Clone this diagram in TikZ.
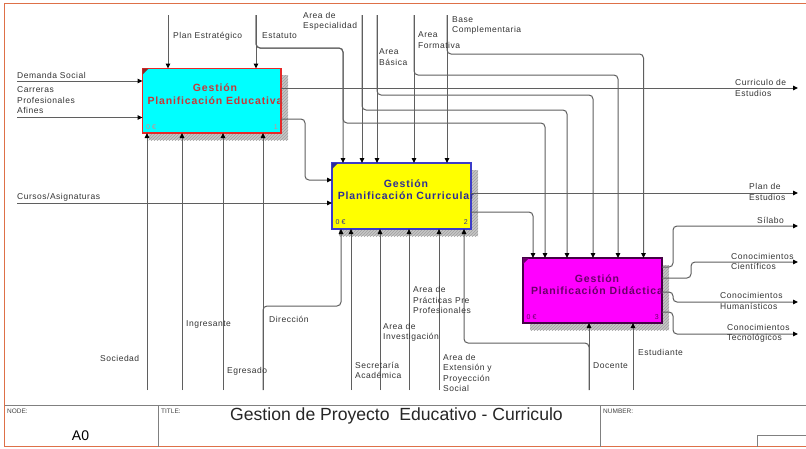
\documentclass[tikz,border=0pt]{standalone}
\usepackage{fontspec}
\setmainfont{Liberation Sans}
\newfontfamily\lblfont{Liberation Sans}[LetterSpace=6]
\newfontfamily\boxfont{Liberation Sans}[LetterSpace=8]
\usetikzlibrary{arrows.meta,patterns}

\definecolor{framecol}{RGB}{222,112,72}
\definecolor{wirecol}{RGB}{95,95,95}
\definecolor{redtxt}{RGB}{200,55,55}
\definecolor{bluetxt}{RGB}{45,45,150}
\definecolor{purptxt}{RGB}{105,0,105}
\definecolor{blueline}{RGB}{60,60,200}
\definecolor{purpline}{RGB}{70,0,70}
\definecolor{fillcyan}{RGB}{0,255,255}
\definecolor{fillyellow}{RGB}{255,255,0}
\definecolor{fillmagenta}{RGB}{255,0,255}
\definecolor{redline}{RGB}{230,40,40}

\tikzset{
  act/.style={rectangle, line width=1.2pt, inner sep=0pt, outer sep=0pt},
  shadowbox/.style={fill=gray!45},
  wire/.style={draw=wirecol, line width=1pt, rounded corners=4pt},
  arr/.style={wire, -{Triangle[length=5pt,width=4.5pt,color=black]}},
  lbl/.style={font=\lblfont\fontsize{8.5}{10.5}\selectfont, inner sep=0pt, anchor=west, align=left, text=black!80},
  acttxt/.style={font=\boxfont\bfseries\fontsize{10.5}{12.5}\selectfont, inner sep=0pt, align=center},
  corner/.style={font=\fontsize{7}{8}\selectfont, inner sep=0pt},
  tbsmall/.style={font=\fontsize{6.5}{7}\selectfont, inner sep=0pt, anchor=west, text=black!75},
  tbline/.style={draw=black!50, line width=1pt}
}

\begin{document}
\begin{tikzpicture}[x=1pt,y=-1pt]
\useasboundingbox (0,0) rectangle (806,448);
\fill[white] (0,0) rectangle (806,448);

% sheet frame
\draw[framecol, line width=1.3pt] (806,3.5) -- (4.5,3.5) -- (4.5,446.5) -- (806,446.5);

% title block
\draw[tbline] (4.5,405.5) -- (806,405.5);
\draw[tbline] (158,405.5) -- (158,446.5);
\draw[tbline] (600,405.5) -- (600,446.5);
\draw[tbline] (806,435.5) -- (757.5,435.5) -- (757.5,446.5);
\node[tbsmall] (tbNode) at (7,411) {NODE:};
\node[font=\fontsize{14}{16}\selectfont, inner sep=0pt] (tbA0) at (80.5,436) {A0};
\node[tbsmall] (tbTitle) at (161,411) {TITLE:};
\node[font=\fontsize{17.6}{20}\selectfont, inner sep=0pt, anchor=west, text=black!85] (tbText) at (230,415.5) {Gestion de Proyecto\ \ Educativo - Curriculo};
\node[tbsmall] (tbNumber) at (603,411) {NUMBER:};

% shadows of the activity boxes
\foreach \a/\b/\c/\d in {148.5/75/288/140, 339/170/478/236, 530/265/669/330}{
  \fill[shadowbox] (\a,\b) rectangle (\c,\d);
  \fill[pattern=north east lines, pattern color=gray!75] (\a,\b) rectangle (\c,\d);
}

% activity boxes
\node[act, draw=redline, fill=fillcyan, minimum width=138.5pt, minimum height=64.5pt] (A1) at (211.75,100.75) {};
\node[act, draw=blueline, fill=fillyellow, minimum width=139pt, minimum height=66pt] (A2) at (401.5,196) {};
\node[act, draw=purpline, fill=fillmagenta, minimum width=139pt, minimum height=65pt] (A3) at (592.5,290.5) {};

\fill[redtxt!70!black] (A1.north west) -- ++(6,0) -- ++(-6,6) -- cycle;
\fill[bluetxt] (A2.north west) -- ++(6,0) -- ++(-6,6) -- cycle;
\fill[purptxt] (A3.north west) -- ++(6,0) -- ++(-6,6) -- cycle;

\node[acttxt, text=redtxt] (A1t) at (215,94) {Gestión\\Planificación Educativa};
\node[acttxt, text=bluetxt] (A2t) at (406,189.5) {Gestión\\Planificación Curricular};
\node[acttxt, text=purptxt] (A3t) at (597,284.5) {Gestión\\Planificación Didáctica};

\node[corner, text=redtxt!60!white, anchor=west] (A1c) at (146,127) {0 €};
\node[corner, text=redtxt!60!white, anchor=east] (A1n) at (278,127) {1};
\node[corner, text=bluetxt, anchor=west] (A2c) at (335.5,222.5) {0 €};
\node[corner, text=bluetxt, anchor=east] (A2n) at (468,222.5) {2};
\node[corner, text=purptxt, anchor=west] (A3c) at (526.5,317) {0 €};
\node[corner, text=purptxt, anchor=east] (A3n) at (659,317) {3};

% ---------- inputs
\coordinate (iDS) at (17,81);
\coordinate (iCP) at (17,117.5);
\coordinate (iCA) at (17,203);
\draw[arr] (iDS) -- (iDS -| A1.west);
\draw[arr] (iCP) -- (iCP -| A1.west);
\draw[arr] (iCA) -- (iCA -| A2.west);

% ---------- controls
\coordinate (cPE) at (168,15);
\coordinate (cES) at (256,15);
\coordinate (cAE) at (362,15);
\coordinate (cAB) at (377,15);
\coordinate (cAF) at (414,15);
\coordinate (cBC) at (447,15);
\coordinate (kES) at (343,48);
\coordinate (kES3) at (545,123);
\coordinate (kAE) at (567,110);
\coordinate (kAB) at (593,95);
\coordinate (kAF) at (618,75);
\coordinate (kBC) at (643.5,54);

\draw[arr] (cPE) -- (cPE |- A1.north);
\draw[arr] (cES) -- (cES |- A1.north);
\draw[arr] (cES) |- (kES) -- (kES |- A2.north);
\draw[arr] (cES) |- (kES) |- (kES3) -- (kES3 |- A3.north);
\draw[arr] (cAE) -- (cAE |- A2.north);
\draw[arr] (cAE) |- (kAE) -- (kAE |- A3.north);
\draw[arr] (cAB) -- (cAB |- A2.north);
\draw[arr] (cAB) |- (kAB) -- (kAB |- A3.north);
\draw[arr] (cAF) -- (cAF |- A2.north);
\draw[arr] (cAF) |- (kAF) -- (kAF |- A3.north);
\draw[arr] (cBC) -- (cBC |- A2.north);
\draw[arr] (cBC) |- (kBC) -- (kBC |- A3.north);

% ---------- outputs
\coordinate (oCE) at (798,88);
\draw[arr] (oCE -| A1.east) -- (oCE);
\coordinate (r12) at (0,119);
\coordinate (k12) at (305,180);
\draw[arr] (r12 -| A1.east) -| (k12) -- (k12 -| A2.west);

\coordinate (oPE) at (798,193);
\draw[arr] (oPE -| A2.east) -- (oPE);
\coordinate (k23) at (533,212);
\draw[arr] (k23 -| A2.east) -- (k23) -- (k23 |- A3.north);

\coordinate (rSi) at (0,267);  \coordinate (kSi) at (673,226);  \coordinate (oSi) at (798,226);
\coordinate (rCC) at (0,278);  \coordinate (kCC) at (691,262);  \coordinate (oCC) at (798,262);
\coordinate (rCH) at (0,292);  \coordinate (kCH) at (673,302);  \coordinate (oCH) at (798,302);
\coordinate (rCT) at (0,312);  \coordinate (kCT) at (673,334);  \coordinate (oCT) at (798,334);
\draw[arr] (rSi -| A3.east) -| (kSi) -- (oSi);
\draw[arr] (rCC -| A3.east) -| (kCC) -- (oCC);
\draw[arr] (rCH -| A3.east) -| (kCH) -- (oCH);
\draw[arr] (rCT -| A3.east) -| (kCT) -- (oCT);

% ---------- mechanisms
\coordinate (mSo) at (147,390);
\coordinate (mIn) at (182,390);
\coordinate (mEg) at (223,390);
\coordinate (mDi) at (263,390);
\coordinate (kDi) at (341,306);
\coordinate (mSA) at (351,390);
\coordinate (mAI) at (380,390);
\coordinate (mAP) at (409,390);
\coordinate (mAX) at (439,390);
\coordinate (mDo) at (589,390);
\coordinate (kDo) at (464,343);
\coordinate (mEs) at (633,390);

\draw[arr] (mSo) -- (mSo |- A1.south);
\draw[arr] (mIn) -- (mIn |- A1.south);
\draw[arr] (mEg) -- (mEg |- A1.south);
\draw[arr] (mDi) -- (mDi |- A1.south);
\draw[arr] (mDi) |- (kDi) -- (kDi |- A2.south);
\draw[arr] (mSA) -- (mSA |- A2.south);
\draw[arr] (mAI) -- (mAI |- A2.south);
\draw[arr] (mAP) -- (mAP |- A2.south);
\draw[arr] (mAX) -- (mAX |- A2.south);
\draw[arr] (mDo) -- (mDo |- A3.south);
\draw[arr] (mDo) |- (kDo) -- (kDo |- A2.south);
\draw[arr] (mEs) -- (mEs |- A3.south);

% ---------- arrow labels
\node[lbl] (lDS) at (17,75) {Demanda Social};
\node[lbl] (lCP) at (17,100.5) {Carreras\\Profesionales\\Afines};
\node[lbl] (lCA) at (17,197) {Cursos/Asignaturas};

\node[lbl] (lPE) at (173,36) {Plan Estratégico};
\node[lbl] (lES) at (262,36) {Estatuto};
\node[lbl] (lAE) at (303,21.5) {Area de\\Especialidad};
\node[lbl] (lAB) at (379,57) {Area\\Básica};
\node[lbl] (lAF) at (418,40) {Area\\Formativa};
\node[lbl] (lBC) at (452,25.5) {Base\\Complementaria};

\node[lbl] (lCE) at (735,88) {Curriculo de\\Estudios};
\node[lbl] (lPlE) at (749,192) {Plan de\\Estudios};
\node[lbl] (lSi) at (757,220) {Sílabo};
\node[lbl] (lCC) at (731,261.5) {Conocimientos\\Científicos};
\node[lbl] (lCH) at (720,301) {Conocimientos\\Humanísticos};
\node[lbl] (lCT) at (727,333.5) {Conocimientos\\Tecnológicos};

\node[lbl] (lSo) at (100,358) {Sociedad};
\node[lbl] (lIn) at (186,324) {Ingresante};
\node[lbl] (lEg) at (227,371) {Egresado};
\node[lbl] (lDi) at (269,319) {Dirección};
\node[lbl] (lSA) at (355,370.5) {Secretaría\\Académica};
\node[lbl] (lAI) at (383,332.5) {Area de\\Investigación};
\node[lbl] (lAP) at (413,300) {Area de\\Prácticas Pre\\Profesionales};
\node[lbl] (lAX) at (443,373) {Area de\\Extensión y\\Proyección\\Social};
\node[lbl] (lDo) at (593,366) {Docente};
\node[lbl] (lEs) at (638,352) {Estudiante};
\end{tikzpicture}
\end{document}
